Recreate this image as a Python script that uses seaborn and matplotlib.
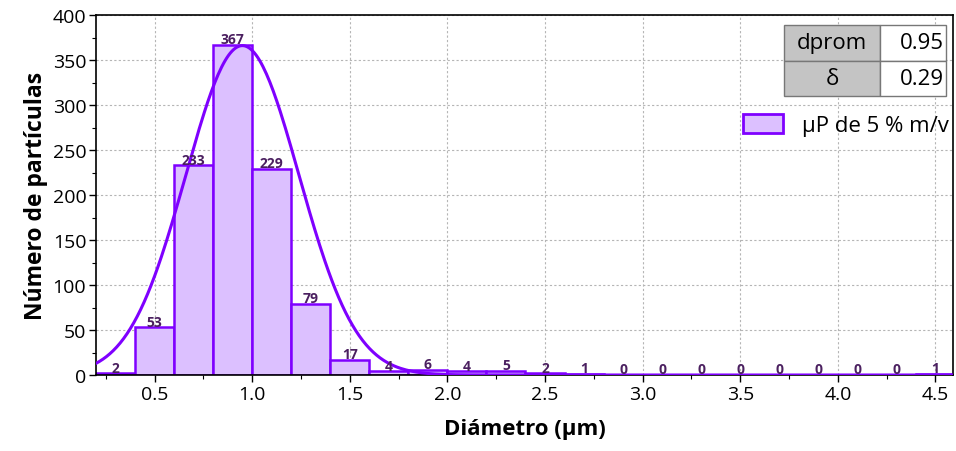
import numpy as np
import pandas as pd
import seaborn as sns
import matplotlib
matplotlib.use("Agg")
import matplotlib.pyplot as plt
from matplotlib.ticker import MultipleLocator, FormatStrFormatter
from matplotlib.patches import Patch

# Particle size histogram (bin width 0.2 µm)
bin_edges = [0.2, 0.4, 0.6, 0.8, 1.0, 1.2, 1.4, 1.6, 1.8, 2.0, 2.2, 2.4,
             2.6, 2.8, 3.0, 3.2, 3.4, 3.6, 3.8, 4.0, 4.2, 4.4, 4.6]
counts = [2, 53, 233, 367, 229, 79, 17, 4, 6, 4, 5, 2, 1,
          0, 0, 0, 0, 0, 0, 0, 0, 1]

# Normal fit parameters shown in the table
d_prom = 0.95
sigma = 0.29
peak_height = 366

series_label = "µP de 5 % m/v"
x_label = "Diámetro (µm)"
y_label = "Número de partículas"

EDGE = "#7f00ff"
FILL = "#dcc0ff"
TXT = "#4b2060"

sns.set_theme(style="white")
plt.rcParams["font.family"] = ["Open Sans", "DejaVu Sans"]
plt.rcParams["text.color"] = "black"
plt.rcParams["axes.labelcolor"] = "black"
plt.rcParams["xtick.color"] = "black"
plt.rcParams["ytick.color"] = "black"

fig = plt.figure(figsize=(9.56, 4.52), dpi=100)
ax = fig.add_axes([96 / 956, 1 - 376 / 452, (953 - 96) / 956, (376 - 16) / 452])

centers = [(a + b) / 2 for a, b in zip(bin_edges[:-1], bin_edges[1:])]
df = pd.DataFrame({"diam": centers, "n": counts})
sns.histplot(data=df, x="diam", weights="n", bins=bin_edges, ax=ax,
             color=FILL, edgecolor=EDGE, linewidth=1.8, alpha=1.0, zorder=2)

ax.bar_label(ax.containers[0], labels=[str(c) for c in counts], padding=-1,
             fontsize=10, fontweight="bold", color=TXT, zorder=5)

xs = np.linspace(0.2, 4.6, 500)
curve = pd.DataFrame({"x": xs,
                      "y": peak_height * np.exp(-0.5 * ((xs - d_prom) / sigma) ** 2)})
sns.lineplot(data=curve, x="x", y="y", ax=ax, color=EDGE, linewidth=2.2, zorder=4)

ax.set_xlim(0.2, 4.59)
ax.set_ylim(0, 400)
ax.xaxis.set_major_locator(MultipleLocator(0.5))
ax.xaxis.set_minor_locator(MultipleLocator(0.25))
ax.xaxis.set_major_formatter(FormatStrFormatter("%.1f"))
ax.yaxis.set_major_locator(MultipleLocator(50))
ax.yaxis.set_minor_locator(MultipleLocator(25))
ax.tick_params(axis="both", which="major", direction="out", length=5, width=1,
               labelsize=14, color="black", labelcolor="black",
               bottom=True, left=True, pad=2)
ax.tick_params(axis="both", which="minor", direction="out", length=3, width=0.8,
               color="black", bottom=True, left=True)
ax.set_xticks([v for v in np.arange(0.5, 4.51, 0.5)])
ax.grid(True, which="major", color="#b5b5b5", linestyle=(0, (2, 2)), linewidth=0.8)
ax.set_axisbelow(True)
for s in ax.spines.values():
    s.set_color("black")
    s.set_linewidth(1.2)

ax.set_xlabel(x_label, fontsize=16, fontweight="bold", labelpad=11, color="black")
ax.set_ylabel(y_label, fontsize=16.5, fontweight="bold", labelpad=3, color="black")

# Summary table
tbl = ax.table(cellText=[["dprom", "0.95"], ["δ", "0.29"]],
               cellColours=[["#c4c4c4", "white"], ["#c4c4c4", "white"]],
               cellLoc="center",
               bbox=[(784 - 96) / (953 - 96), (376 - 97) / 360,
                     (946 - 784) / (953 - 96), (97 - 26) / 360],
               colWidths=[96, 66])
tbl.auto_set_font_size(False)
for (r, c), cell in tbl.get_celld().items():
    cell.set_edgecolor("#777777")
    cell.set_linewidth(1)
    cell.get_text().set_fontsize(16)
    cell.get_text().set_color("black")
    if c == 1:
        cell.get_text().set_ha("right")
        cell._loc = "right"
        cell.PAD = 0.03
tbl.set_zorder(6)

handle = Patch(facecolor=FILL, edgecolor=EDGE, linewidth=2)
leg = ax.legend([handle], [series_label], loc="center right",
                bbox_to_anchor=(0.995, 0.694), frameon=False, fontsize=16,
                borderaxespad=0, borderpad=0, labelcolor="black",
                handlelength=1.8, handleheight=0.95, handletextpad=0.85)

fig.savefig("out.png", dpi=100)
